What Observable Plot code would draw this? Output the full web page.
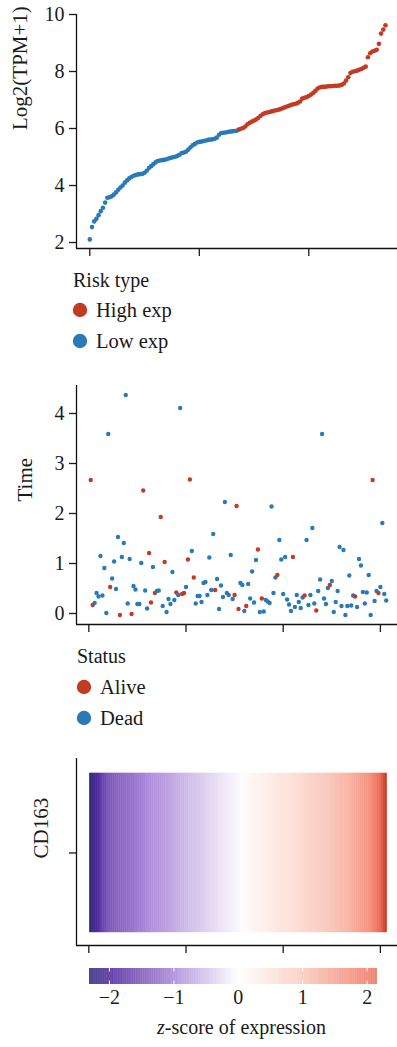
<!DOCTYPE html>
<html><head><meta charset="utf-8">
<script src="https://cdn.jsdelivr.net/npm/d3@7"></script>
<script src="https://cdn.jsdelivr.net/npm/@observablehq/plot@0.6"></script>
<style>
body{margin:0;background:#fff;}
#root{position:relative;width:397px;height:1047px;font-family:"Liberation Serif","Times New Roman","DejaVu Serif",serif;color:#1a1a1a;overflow:hidden;}
</style></head><body><div id="root"></div>
<script>
// ---------- data ----------
// Panel 1: sorted expression, log2(TPM+1)
const expr = [2.11,2.54,2.74,2.83,2.96,3.10,3.22,3.40,3.57,3.59,3.62,3.68,3.76,3.85,3.93,4.00,4.10,4.18,4.25,4.30,
4.34,4.37,4.39,4.40,4.41,4.45,4.52,4.61,4.68,4.75,4.81,4.86,4.88,4.89,4.90,4.92,4.95,4.97,4.99,5.01,
5.04,5.08,5.14,5.16,5.19,5.26,5.34,5.41,5.46,5.51,5.53,5.54,5.56,5.58,5.60,5.61,5.62,5.64,5.68,5.78,
5.84,5.85,5.86,5.88,5.89,5.90,5.91,5.92,5.96,5.99,6.02,6.07,6.15,6.20,6.24,6.28,6.32,6.38,6.45,6.50,
6.54,6.56,6.58,6.60,6.62,6.64,6.66,6.68,6.71,6.74,6.77,6.80,6.83,6.85,6.87,6.90,6.95,7.05,7.08,7.10,
7.14,7.19,7.25,7.32,7.40,7.44,7.46,7.46,7.47,7.48,7.48,7.49,7.50,7.50,7.51,7.53,7.58,7.68,7.80,7.95,
7.99,8.01,8.03,8.06,8.09,8.13,8.17,8.50,8.64,8.70,8.73,8.76,8.97,9.33,9.47,9.62];
const lowCount = 68; // first 68 samples are "Low exp"
const riskTypes = ["High exp","Low exp"];
const expTicks = [2,4,6,8,10];
const sampleTicks1 = [0,50,100];

// Panel 2: survival time and status
const times = [2.67,0.17,0.21,0.41,0.34,1.15,0.36,0.91,0.01,3.59,0.53,0.70,1.04,0.49,1.53,-0.03,1.13,1.41,4.37,0.20,
1.09,-0.01,0.55,0.48,0.19,0.19,1.01,2.46,0.46,0.10,1.21,0.22,0.93,0.41,0.45,0.46,1.93,0.15,1.03,0.03,
0.29,0.19,0.83,0.27,0.42,0.37,4.11,0.39,0.41,0.53,1.08,2.68,1.25,0.72,0.20,0.35,0.35,0.23,0.61,0.63,
0.37,1.12,0.47,1.59,0.47,0.69,0.09,0.56,0.33,2.23,0.41,0.37,1.17,0.29,0.37,2.15,0.09,0.61,0.57,0.05,
0.15,0.59,0.30,0.84,0.22,1.07,1.28,0.03,0.30,0.04,0.27,0.24,0.21,2.14,0.41,0.72,0.77,1.47,1.08,0.39,
1.13,0.28,0.18,0.05,1.13,0.13,0.37,0.23,0.11,0.32,0.36,1.47,0.17,0.37,1.71,0.20,0.06,0.45,0.68,3.59,
0.30,0.19,0.51,0.57,0.65,0.03,0.23,0.45,1.33,0.15,1.27,-0.03,0.15,0.76,0.16,0.36,0.34,0.13,1.09,0.96,
0.43,0.20,0.42,0.77,-0.03,2.67,0.25,0.45,0.41,0.53,1.81,0.39,0.26];
const aliveSamples = [1,2,11,16,22,28,31,32,34,37,39,45,48,49,51,52,54,65,75,76,77,81,87,89,97,105,111,117,124,137,146,149];
const statusTypes = ["Alive","Dead"];
const timeTicks = [0,1,2,3,4];
const sampleTicks2 = [0,50,100,150];

// Panel 3: z-score of CD163 expression per sample
const gene = "CD163";
const zscores = [-2.42,-2.28,-2.12,-2.02,-1.93,-1.86,-1.74,-1.69,-1.61,
-1.53,-1.51,-1.47,-1.46,-1.41,-1.40,-1.36,-1.35,-1.32,-1.31,-1.26,-1.25,-1.21,-1.20,-1.16,-1.15,-1.11,-1.10,-1.07,-1.05,-1.01,
-0.98,-0.97,-0.93,-0.92,-0.90,-0.87,-0.86,-0.83,-0.82,-0.79,-0.78,-0.75,-0.74,-0.71,-0.70,-0.67,-0.66,-0.63,-0.62,-0.59,
-0.58,-0.55,-0.54,-0.51,-0.50,-0.47,-0.46,-0.43,-0.42,-0.39,-0.38,-0.35,-0.34,-0.31,-0.30,
-0.28,-0.26,-0.23,-0.22,-0.19,-0.18,-0.15,-0.14,-0.11,-0.10,-0.08,-0.07,-0.05,-0.03,-0.02,
0.12,0.13,0.16,0.17,0.20,0.21,0.24,0.25,0.28,0.29,0.32,0.33,0.36,0.37,0.40,0.41,0.44,0.45,0.48,0.49,
0.52,0.53,0.56,0.57,0.60,0.61,0.64,0.65,0.68,0.70,
0.74,0.78,0.79,0.83,0.84,0.88,0.89,0.93,0.94,0.97,0.99,1.02,1.03,1.06,1.07,1.10,1.11,1.14,1.15,1.18,
1.19,1.22,1.25,1.28,1.32,
1.41,1.43,1.49,1.51,1.56,1.59,1.65,1.67,1.73,1.78,
1.87,1.96,2.01,2.11,2.17,
2.38,2.58,2.82];
const zTicks = [-2,-1,0,1,2];
const zLabel = "-score of expression";

// ---------- styling ----------
const FONT = '"Liberation Serif","Times New Roman","DejaVu Serif",serif';
const RED = "#C23B22", BLUE = "#2A7AB8", INK = "#111";
const colorScale = {type:"linear",
  domain:[-2.4,-2,-1,0,1,2,2.8],
  range:["#2f2a72","#4d289c","#ab88d8","#ffffff","#fbcabd","#f27e6a","#cf3a26"],
  interpolate:"rgb"};
const baseStyle = {fontFamily:FONT, fontSize:"20px", color:"#1a1a1a", background:"transparent", overflow:"visible"};
const intFmt = d => (d < 0 ? "\u2212" : "") + Math.abs(d);
const TICKFS = 20, TITLEFS = 21;

const root = document.getElementById("root");
function place(el, top){ el.style.position="absolute"; el.style.left="0px"; el.style.top=top+"px"; root.appendChild(el); }

// ---------- panel 1 ----------
const d1 = expr.map((v,i)=>({i, v, type: i < lowCount ? "Low exp" : "High exp"}));
const x1d = [-6.07, 140.5], y1d = [1.79, 10];
const p1 = Plot.plot({
  width:397, height:262, marginTop:14, marginBottom:14, marginLeft:76, marginRight:0,
  style: baseStyle,
  x:{domain:x1d}, y:{domain:y1d},
  color:{domain:riskTypes, range:[RED,BLUE]},
  marks:[
    Plot.ruleX([x1d[0]],{stroke:INK, strokeWidth:1.3}),
    Plot.ruleY([y1d[0]],{stroke:INK, strokeWidth:1.3}),
    Plot.axisY({ticks:expTicks, tickSize:7, tickPadding:5, tickFormat:intFmt, label:null, fontSize:TICKFS, fontFamily:FONT, strokeWidth:1.3}),
    Plot.axisX({ticks:sampleTicks1, tickSize:8, tickFormat:()=>"", label:null, strokeWidth:1.3}),
    Plot.dot(d1,{x:"i", y:"v", r:2.3, fill:"type", stroke:null}),
    Plot.text(["Log2(TPM+1)"],{frameAnchor:"left", dx:-56, dy:-1.5, rotate:-90, fontSize:TITLEFS, fontFamily:FONT, fill:"#1a1a1a"})
  ]
});
place(p1, 0);

// ---------- panel 2 ----------
const d2 = times.map((t,k)=>({i:k+1, t, status: aliveSamples.includes(k+1) ? "Alive" : "Dead"}));
const x2d = [-6.33, 158.8], y2d = [-0.22, 4.56];
const p2 = Plot.plot({
  width:397, height:268, marginTop:15, marginBottom:14, marginLeft:76, marginRight:0,
  style: baseStyle,
  x:{domain:x2d}, y:{domain:y2d},
  color:{domain:statusTypes, range:[RED,BLUE]},
  marks:[
    Plot.ruleX([x2d[0]],{stroke:INK, strokeWidth:1.3}),
    Plot.ruleY([y2d[0]],{stroke:INK, strokeWidth:1.3}),
    Plot.axisY({ticks:timeTicks, tickSize:7, tickPadding:5, tickFormat:intFmt, label:null, fontSize:TICKFS, fontFamily:FONT, strokeWidth:1.3}),
    Plot.axisX({ticks:sampleTicks2, tickSize:8, tickFormat:()=>"", label:null, strokeWidth:1.3}),
    Plot.dot(d2,{x:"i", y:"t", r:2.2, fill:"status", stroke:null}),
    Plot.text(["Time"],{frameAnchor:"left", dx:-51, dy:-3.5, rotate:-90, fontSize:TITLEFS, fontFamily:FONT, fill:"#1a1a1a"})
  ]
});
place(p2, 370);

// ---------- panel 3 (heatmap) ----------
const d3h = zscores.map((z,k)=>({i:k+1, z}));
const y3d = [-0.0818, 1.094];
const p3 = Plot.plot({
  width:397, height:209, marginTop:8, marginBottom:14, marginLeft:76, marginRight:0,
  style: baseStyle,
  x:{domain:x2d}, y:{domain:y3d},
  color: colorScale,
  marks:[
    Plot.rect(d3h,{x1:d=>d.i-0.5, x2:d=>d.i+0.5, y1:0, y2:1, fill:"z", stroke:"z", strokeWidth:0.4}),
    Plot.ruleX([x2d[0]],{stroke:INK, strokeWidth:1.3}),
    Plot.ruleY([y3d[0]],{stroke:INK, strokeWidth:1.3}),
    Plot.axisX({ticks:sampleTicks2, tickSize:8, tickFormat:()=>"", label:null, strokeWidth:1.3}),
    Plot.axisY({ticks:[0.5], tickSize:7, tickFormat:()=>"", label:null, strokeWidth:1.3}),
    Plot.text([gene],{frameAnchor:"left", dx:-35, dy:6.5, rotate:-90, fontSize:TITLEFS, fontFamily:FONT, fill:"#1a1a1a"})
  ]
});
place(p3, 750);

// ---------- colour bar ----------
const zdom = [-2.31, 2.16];
const ramp = d3.range(zdom[0], zdom[1], 0.01);
const p4 = Plot.plot({
  width:397, height:89, marginTop:10, marginBottom:63, marginLeft:89, marginRight:20,
  style: baseStyle,
  x:{domain:zdom}, y:{domain:[0,1], axis:null},
  color: colorScale,
  marks:[
    Plot.rect(ramp,{x1:d=>d, x2:d=>Math.min(d+0.012, zdom[1]), y1:0, y2:1, fill:d=>d}),
    Plot.ruleX(zTicks,{y1:0.78, y2:1, stroke:"white", strokeWidth:1}),
    Plot.ruleX(zTicks,{y1:0, y2:0.22, stroke:"white", strokeWidth:1}),
    Plot.axisX({ticks:zTicks, tickSize:0, tickPadding:5, tickFormat:intFmt, label:null, fontSize:TICKFS, fontFamily:FONT})
  ]
});
place(p4, 958);

// ---------- legends & caption ----------
const svg = d3.select(root).append("svg")
  .attr("width",397).attr("height",1047)
  .style("position","absolute").style("left","0px").style("top","0px")
  .style("font-family",FONT).style("pointer-events","none");
function legend(title, items, tx, tBase, cx, textX, rows){
  svg.append("text").attr("x",tx).attr("y",tBase).attr("font-size",20).attr("font-family",FONT).attr("fill","#1a1a1a").text(title);
  items.forEach((it,k)=>{
    svg.append("circle").attr("cx",cx).attr("cy",rows[k].cy).attr("r",7.2).attr("fill",it.color);
    svg.append("text").attr("x",textX).attr("y",rows[k].base).attr("font-size",20.5).attr("font-family",FONT).attr("fill","#1a1a1a").text(it.label);
  });
}
legend("Risk type", [{label:riskTypes[0],color:RED},{label:riskTypes[1],color:BLUE}], 73, 286.5, 80, 96,
  [{cy:310,base:316.5},{cy:341,base:347.5}]);
legend("Status", [{label:statusTypes[0],color:RED},{label:statusTypes[1],color:BLUE}], 77, 663, 84, 100,
  [{cy:687,base:694},{cy:718,base:725}]);
const cap = svg.append("text").attr("x",241.5).attr("y",1034).attr("text-anchor","middle")
  .attr("font-size",20).attr("font-family",FONT).attr("fill","#1a1a1a");
cap.append("tspan").attr("font-style","italic").text("z");
cap.append("tspan").text(zLabel);
</script></body></html>
